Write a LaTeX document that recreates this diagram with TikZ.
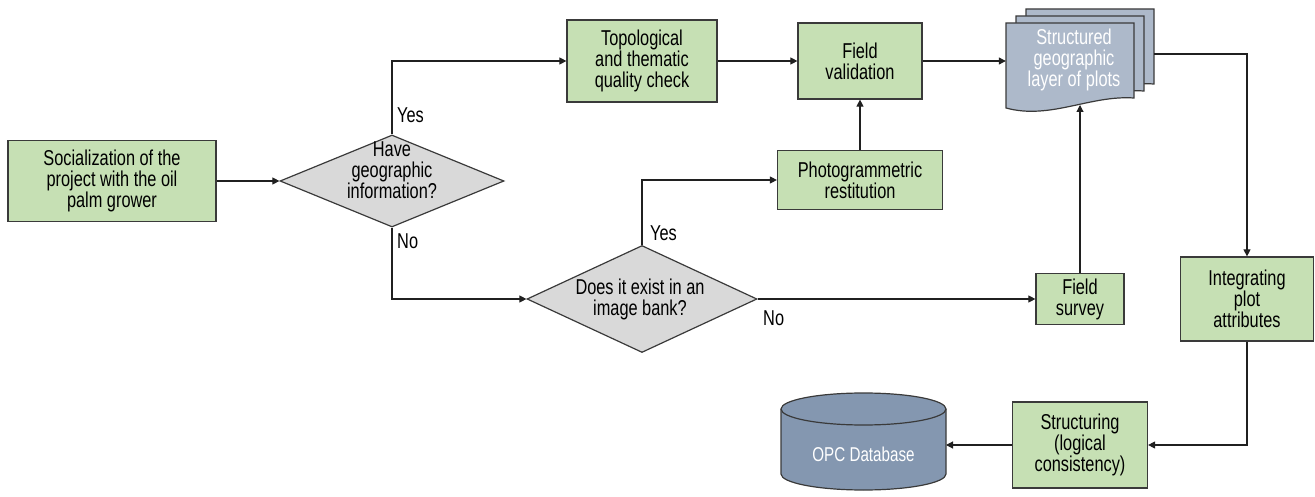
\documentclass[tikz,border=0pt]{standalone}
\usepackage{fontspec}
\setmainfont{Liberation Sans}[FakeStretch=0.76]
\usetikzlibrary{arrows.meta,shapes.geometric}
\definecolor{boxg}{HTML}{C6E0B4}
\definecolor{diag}{HTML}{D9D9D9}
\definecolor{docc}{HTML}{ADB9CA}
\definecolor{cylc}{HTML}{8497B0}
\definecolor{bordc}{HTML}{3A3A3A}
\definecolor{linec}{HTML}{202020}
\tikzset{
  txt/.style={align=center, inner sep=0pt, font=\fontsize{21.5}{21}\selectfont, text=black},
  box/.style={txt, draw=bordc, line width=1.2pt, fill=boxg},
  dia/.style={shape=diamond, draw=bordc, line width=1.2pt, fill=diag, inner sep=0pt},
  arr/.style={-{Triangle[length=7pt,width=7pt]}, line width=1.1pt, draw=linec},
  docsh/.style={draw=bordc, line width=1.2pt, fill=docc}
}
\begin{document}
\begin{tikzpicture}[x=1pt,y=1pt]
\useasboundingbox (0,0) rectangle (1315,-497);
% boxes
\node[box, minimum width=208pt, minimum height=81pt] (soc) at (112,-181) {Socialization of the\\project with the oil\\palm grower};
\node[box, minimum width=150pt, minimum height=82pt] (topo) at (642,-61) {Topological\\and thematic\\quality check};
\node[box, minimum width=124pt, minimum height=76pt] (fval) at (860,-61) {Field\\validation};
\node[box, minimum width=165pt, minimum height=59pt] (photo) at (860,-180) {Photogrammetric\\restitution};
\node[box, minimum width=88pt, minimum height=51pt] (fsur) at (1080,-299) {Field\\survey};
\node[box, minimum width=133pt, minimum height=84pt] (integ) at (1247,-299) {Integrating\\plot\\attributes};
\node[box, minimum width=135pt, minimum height=86pt] (struc) at (1080,-445) {Structuring\\(logical\\consistency)};
% diamonds
\node[dia, minimum width=224pt, minimum height=92pt] (d1) at (392,-181) {};
\node[txt] (d1t) at (392,-170) {Have\\geographic\\information?};
\node[dia, minimum width=230pt, minimum height=107pt] (d2) at (642,-299) {};
\node[txt] (d2t) at (640,-299) {Does it exist in an\\image bank?};
% documents
\path[docsh] (1026,-9) -- (1154,-9) -- (1154,-84) .. controls (1110,-81) and (1070,-106) .. (1026,-94) -- cycle;
\path[docsh] (1016,-16) -- (1144,-16) -- (1144,-91) .. controls (1100,-88) and (1060,-113) .. (1016,-101) -- cycle;
\path[docsh] (1006,-23) -- (1134,-23) -- (1134,-98) .. controls (1090,-95) and (1050,-120) .. (1006,-108) -- cycle;
\node[txt, text=white, minimum width=128pt, minimum height=70pt] (doc) at (1070,-61) {};
\node[txt, text=white] (doct) at (1074,-60) {Structured\\geographic\\layer of plots};
\coordinate (docbot) at (1080,-105);
\coordinate (docback) at (1154,-54);
% cylinder
\path[draw=bordc, line width=1.2pt, fill=cylc] (781,-409) -- (781,-474) arc (180:360:82.5 and 16) -- (946,-409) arc (0:180:82.5 and 16) -- cycle;
\draw[draw=bordc, line width=1.2pt] (781,-409) arc (180:360:82.5 and 16);
\node[txt, text=white, font=\fontsize{20}{21}\selectfont] (db) at (863.5,-454) {OPC Database};
\coordinate (dbr) at (946,-445);
% connectors
\draw[arr] (soc.east) -- (d1.west);
\draw[arr] (d1.north) |- (topo.west);
\draw[arr] (topo.east) -- (fval.west);
\draw[arr] (fval.east) -- (doc.west);
\draw[arr] (photo.north) -- (fval.south);
\draw[arr] (d1.south) |- (d2.west);
\draw[arr] (d2.north) |- (photo.west);
\draw[arr] (d2.east) -- (fsur.west);
\draw[arr] (fsur.north) -- (docbot);
\draw[arr] (docback) -| (integ.north);
\draw[arr] (integ.south) |- (struc.east);
\draw[arr] (struc.west) -- (dbr);
% labels
\node[txt, anchor=west] (yes1) at (397,-115) {Yes};
\node[txt, anchor=west] (no1) at (397,-241) {No};
\node[txt, anchor=west] (yes2) at (650,-233) {Yes};
\node[txt, anchor=west] (no2) at (763,-318) {No};
\end{tikzpicture}
\end{document}
